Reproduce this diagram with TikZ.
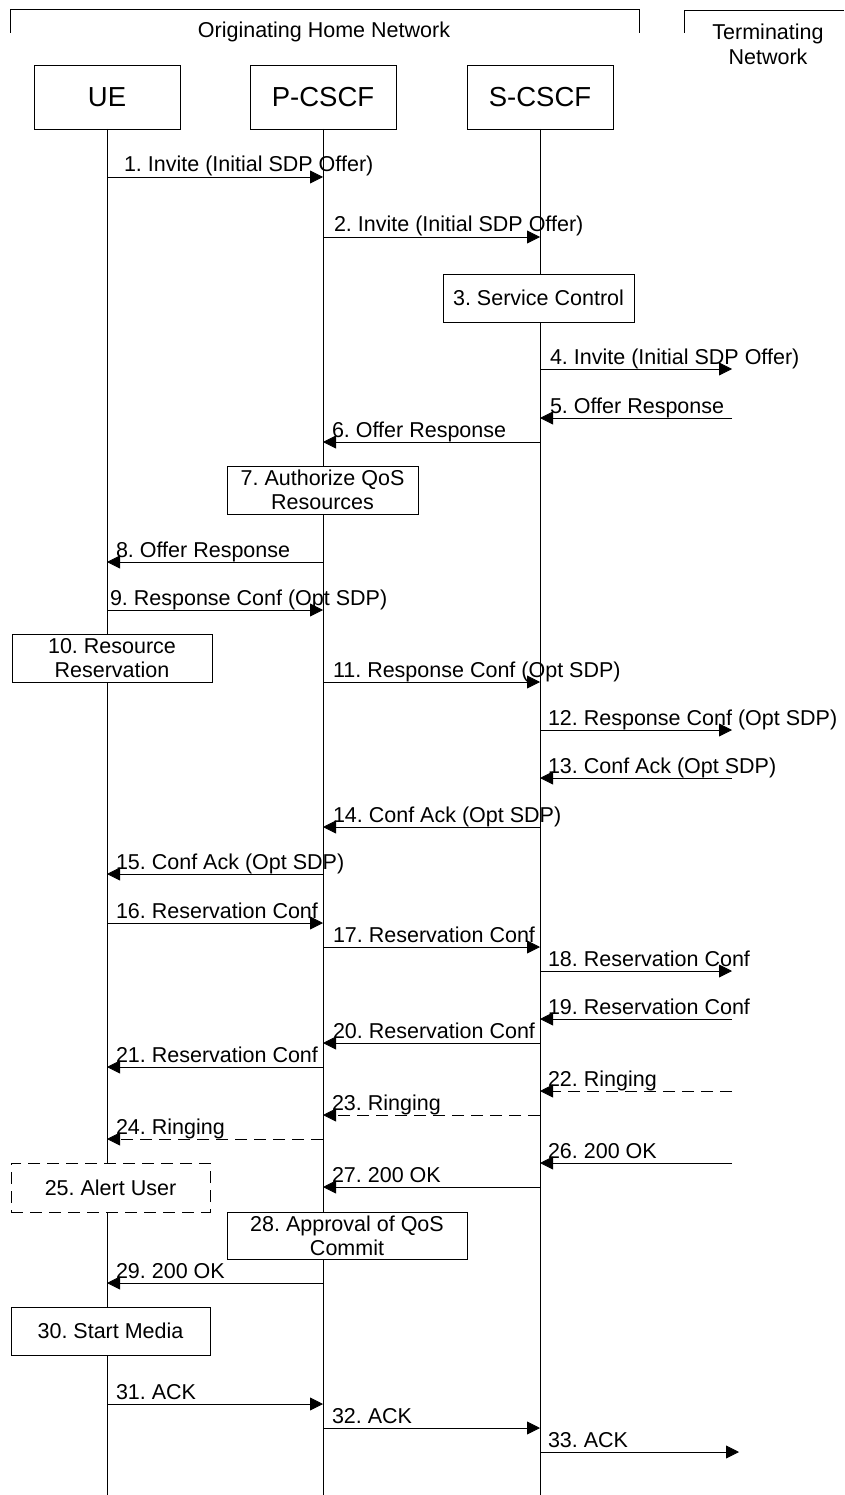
\documentclass[tikz,border=0pt]{standalone}
\usepackage{fontspec}
\setmainfont{Liberation Sans}
\usetikzlibrary{arrows.meta}
\frenchspacing
\begin{document}
\begin{tikzpicture}[x=1pt,y=-1pt,
  every node/.style={inner sep=0pt, outer sep=0pt},
  lbl/.style={font=\fontsize{21.5}{24}\selectfont, anchor=base west},
  hdr/.style={font=\fontsize{21.5}{24}\selectfont, anchor=base},
  ent/.style={draw, line width=0.8pt, fill=white, minimum width=146pt, minimum height=64pt, font=\fontsize{27.5}{30}\selectfont},
  act/.style={draw, line width=0.8pt, fill=white, font=\fontsize{21.5}{24}\selectfont, align=center},
  dact/.style={act, dash pattern=on 12pt off 7pt},
  life/.style={line width=0.8pt},
  msg/.style={line width=0.8pt, -{Triangle[length=13pt,width=13pt]}},
  dmsg/.style={msg, dash pattern=on 12pt off 7pt},
]
\useasboundingbox (0,0) rectangle (844,1495);

% network brackets
\draw[life] (10.7,33) -- (10.7,9.5) -- (639,9.5) -- (639,33);
\draw[life] (684,33) -- (684,10) -- (844,10);
\node[hdr] (orig) at (324,38) {Originating Home Network};
\node[hdr] (term1) at (768,40) {Terminating};
\node[hdr] (term2) at (768,65) {Network};

% entities
\node[ent] (UE) at (107,97) {UE};
\node[ent] (PC) at (323,97) {P-CSCF};
\node[ent] (SC) at (540,97) {S-CSCF};
\coordinate (TN) at (732,97);

% lifelines
\draw[life] (UE.south) -- (UE.south |- 0,1495);
\draw[life] (PC.south) -- (PC.south |- 0,1495);
\draw[life] (SC.south) -- (SC.south |- 0,1495);

% action boxes
\node[act, minimum width=191pt, minimum height=48pt] (a3) at (538.5,298) {3. Service Control};
\node[act, minimum width=191pt, minimum height=48pt] (a7) at (322.5,490) {7. Authorize QoS\\Resources};
\node[act, minimum width=200pt, minimum height=48pt] (a10) at (112,658) {10. Resource\\Reservation};
\node[dact, minimum width=199pt, minimum height=49pt] (a25) at (110.5,1187.5) {25. Alert User};
\node[act, minimum width=240pt, minimum height=47pt] (a28) at (347,1235.5) {28. Approval of QoS\\Commit};
\node[act, minimum width=199pt, minimum height=48pt] (a30) at (110.5,1331) {30. Start Media};

% messages
\draw[msg] (UE.south |- 0,177) -- (PC.south |- 0,177);
\node[lbl] (m1) at (124,172) {1. Invite (Initial SDP Offer)};
\draw[msg] (PC.south |- 0,237) -- (SC.south |- 0,237);
\node[lbl] (m2) at (334,232) {2. Invite (Initial SDP Offer)};
\draw[msg] (SC.south |- 0,369) -- (TN |- 0,369);
\node[lbl] (m4) at (550,364) {4. Invite (Initial SDP Offer)};
\draw[msg] (TN |- 0,418) -- (SC.south |- 0,418);
\node[lbl] (m5) at (550,413) {5. Offer Response};
\draw[msg] (SC.south |- 0,442) -- (PC.south |- 0,442);
\node[lbl] (m6) at (332,437) {6. Offer Response};
\draw[msg] (PC.south |- 0,562) -- (UE.south |- 0,562);
\node[lbl] (m8) at (116,557) {8. Offer Response};
\draw[msg] (UE.south |- 0,610) -- (PC.south |- 0,610);
\node[lbl] (m9) at (110,605) {9. Response Conf (Opt SDP)};
\draw[msg] (PC.south |- 0,682) -- (SC.south |- 0,682);
\node[lbl] (m11) at (333,677) {11. Response Conf (Opt SDP)};
\draw[msg] (SC.south |- 0,730) -- (TN |- 0,730);
\node[lbl] (m12) at (548,725) {12. Response Conf (Opt SDP)};
\draw[msg] (TN |- 0,778) -- (SC.south |- 0,778);
\node[lbl] (m13) at (548,773) {13. Conf Ack (Opt SDP)};
\draw[msg] (SC.south |- 0,827) -- (PC.south |- 0,827);
\node[lbl] (m14) at (333,822) {14. Conf Ack (Opt SDP)};
\draw[msg] (PC.south |- 0,874) -- (UE.south |- 0,874);
\node[lbl] (m15) at (116,869) {15. Conf Ack (Opt SDP)};
\draw[msg] (UE.south |- 0,923) -- (PC.south |- 0,923);
\node[lbl] (m16) at (116,918) {16. Reservation Conf};
\draw[msg] (PC.south |- 0,947) -- (SC.south |- 0,947);
\node[lbl] (m17) at (333,942) {17. Reservation Conf};
\draw[msg] (SC.south |- 0,971) -- (TN |- 0,971);
\node[lbl] (m18) at (548,966) {18. Reservation Conf};
\draw[msg] (TN |- 0,1019) -- (SC.south |- 0,1019);
\node[lbl] (m19) at (548,1014) {19. Reservation Conf};
\draw[msg] (SC.south |- 0,1043) -- (PC.south |- 0,1043);
\node[lbl] (m20) at (333,1038) {20. Reservation Conf};
\draw[msg] (PC.south |- 0,1067) -- (UE.south |- 0,1067);
\node[lbl] (m21) at (116,1062) {21. Reservation Conf};
\draw[dmsg] (TN |- 0,1091) -- (SC.south |- 0,1091);
\node[lbl] (m22) at (548,1086) {22. Ringing};
\draw[dmsg] (SC.south |- 0,1115) -- (PC.south |- 0,1115);
\node[lbl] (m23) at (332,1110) {23. Ringing};
\draw[dmsg] (PC.south |- 0,1139) -- (UE.south |- 0,1139);
\node[lbl] (m24) at (116,1134) {24. Ringing};
\draw[msg] (TN |- 0,1163) -- (SC.south |- 0,1163);
\node[lbl] (m26) at (548,1158) {26. 200 OK};
\draw[msg] (SC.south |- 0,1187) -- (PC.south |- 0,1187);
\node[lbl] (m27) at (332,1182) {27. 200 OK};
\draw[msg] (PC.south |- 0,1283) -- (UE.south |- 0,1283);
\node[lbl] (m29) at (116,1278) {29. 200 OK};
\draw[msg] (UE.south |- 0,1404) -- (PC.south |- 0,1404);
\node[lbl] (m31) at (116,1399) {31. ACK};
\draw[msg] (PC.south |- 0,1428) -- (SC.south |- 0,1428);
\node[lbl] (m32) at (332,1423) {32. ACK};
\coordinate (T33) at (739,1452);
\draw[msg] (SC.south |- 0,1452) -- (T33);
\node[lbl] (m33) at (548,1447) {33. ACK};
\end{tikzpicture}
\end{document}
